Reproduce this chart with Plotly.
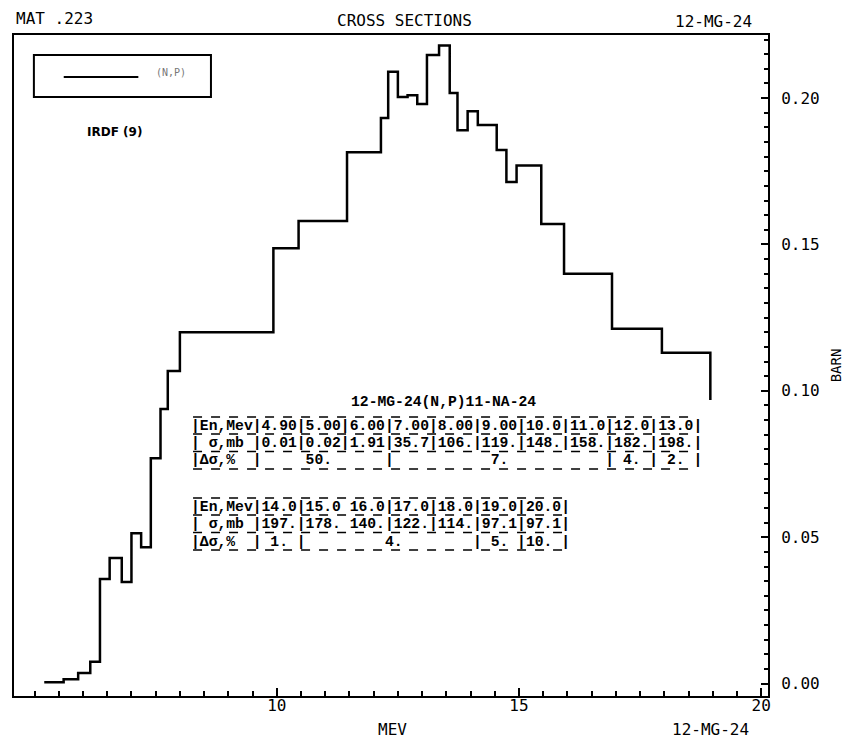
import plotly.graph_objects as go

# ---------------- data ----------------
# IRDF group-wise cross section (barn): step start energies (MeV) and levels
group_edges = [5.2, 5.6, 5.9, 6.15, 6.35, 6.55, 6.8, 7.0, 7.2, 7.4,
               7.6, 7.75, 8.0, 9.93, 10.45, 11.45, 12.15, 12.3, 12.5, 12.7,
               12.9, 13.1, 13.35, 13.57, 13.73, 13.94, 14.15, 14.54, 14.74, 14.95,
               15.46, 15.93, 16.92, 17.95, 18.95]
group_xs = [0.0005, 0.0015, 0.0036, 0.0075, 0.0357, 0.0429, 0.0347, 0.0514, 0.0466, 0.0770,
            0.0938, 0.1068, 0.1200, 0.1487, 0.1580, 0.1815, 0.1932, 0.2090, 0.2004, 0.2010,
            0.1980, 0.2147, 0.2180, 0.2017, 0.1890, 0.1955, 0.1908, 0.1823, 0.1713, 0.1770,
            0.1570, 0.1400, 0.1212, 0.1130, 0.0969]

# table of point data
t1_energy = ["4.90", "5.00", "6.00", "7.00", "8.00", "9.00", "10.0", "11.0", "12.0", "13.0"]
t1_sigma = ["0.01", "0.02", "1.91", "35.7", "106.", "119.", "148.", "158.", "182.", "198."]
t1_unc = [("50.", 3), ("7.", 5), ("4.", 1), ("2.", 1)]
t1_seps = ["|"] * 10

t2_energy = ["14.0", "15.0", "16.0", "17.0", "18.0", "19.0", "20.0"]
t2_sigma = ["197.", "178.", "140.", "122.", "114.", "97.1", "97.1"]
t2_unc = [("1.", 1), ("4.", 4), ("5.", 1), ("10.", 1)]
t2_seps = ["|", " ", "|", "|", "|", "|", "|"]

x_tickvals = [10, 15, 20]
y_tickvals = [0.00, 0.05, 0.10, 0.15, 0.20]

# ---------------- layout helpers ----------------
W, H = 854, 738
L, R, T, B = 12, 770, 35, 696  # plot frame in pixels


def px(x):
    return (x - L) / (R - L)


def py(y):
    return (B - y) / (B - T)


def e_of_px(p):
    return 15 + (p - 519.67) / 48.7


def v_of_py(p):
    return (683.6 - p) / 2927.5


def nb(s):
    return s.replace(" ", "\u00a0")


def row(head, cells, seps):
    return "|" + head + "|" + "".join(c + s for c, s in zip(cells, seps))


def unc_row(head, groups):
    s = "|" + head + "|"
    for lab, n in groups:
        s += lab.center(n * 5 - 1) + "|"
    return s


fig = go.Figure()
fig.add_trace(go.Scatter(
    x=group_edges, y=group_xs, mode="lines",
    line=dict(shape="hv", color="black", width=2.5),
    name="(N,P)", showlegend=False, hoverinfo="x+y"))

mono = "DejaVu Sans Mono"
tmono = "Liberation Mono"
ann = []


def text(x, y, s, size=16, family=mono, xanchor="center", color="black"):
    ann.append(dict(x=px(x), y=py(y), xref="paper", yref="paper", text=s,
                    showarrow=False, xanchor=xanchor, yanchor="middle",
                    font=dict(family=family, size=size, color=color)))


text(53, 19, "MAT .223")
text(405, 20, "CROSS SECTIONS")
text(715, 21, "12-MG-24")
text(393, 729, "MEV")
text(712, 729, "12-MG-24")
text(113, 132, "<b>IRDF (9)</b>", size=12, family="DejaVu Sans")
text(170, 72, "(N,P)", size=10, color="#777")

# table of point data
text(444, 402, "<b>12-MG-24(N,P)11-NA-24</b>", size=14.7, family=tmono)
cw = 8.8
x0 = 189
t1_rows = [row("En,Mev", t1_energy, t1_seps),
           row(" σ,mb ", t1_sigma, t1_seps),
           unc_row("Δσ,%  ", t1_unc)]
t2_rows = [row("En,Mev", t2_energy, t2_seps),
           row(" σ,mb ", t2_sigma, t2_seps),
           unc_row("Δσ,%  ", t2_unc)]
for rows, ys in ((t1_rows, [426, 443, 460]), (t2_rows, [506.5, 524, 541.5])):
    for r, yy in zip(rows, ys):
        ann.append(dict(x=px(x0), y=py(yy), xref="paper", yref="paper",
                        text="<b>" + nb(r) + "</b>", showarrow=False,
                        xanchor="left", yanchor="middle", borderpad=0,
                        font=dict(family=tmono, size=14.7, color="black")))

shapes = []
for rows, ys in ((t1_rows, [417, 434, 451.5, 469]), (t2_rows, [498, 515, 532.5, 550])):
    w = len(rows[0]) * cw
    for yy in ys:
        shapes.append(dict(type="line", xref="paper", yref="paper",
                           x0=px(x0 + 3), x1=px(x0 + w - 3), y0=py(yy), y1=py(yy),
                           line=dict(color="black", width=1.5, dash="dash")))

# legend box
shapes.append(dict(type="rect", xref="paper", yref="paper",
                   x0=px(32), x1=px(210), y0=py(55), y1=py(97),
                   line=dict(color="black", width=2)))
shapes.append(dict(type="line", xref="paper", yref="paper",
                   x0=px(62), x1=px(137), y0=py(77), y1=py(77),
                   line=dict(color="black", width=2)))

fig.update_layout(
    width=W, height=H,
    margin=dict(l=L, r=W - R, t=T, b=H - B, pad=0),
    paper_bgcolor="white", plot_bgcolor="white",
    showlegend=False,
    annotations=ann, shapes=shapes,
    xaxis=dict(range=[e_of_px(L), e_of_px(R)], showline=True, linecolor="black",
               linewidth=2, mirror=True, showgrid=False, zeroline=False,
               tickmode="array", tickvals=x_tickvals,
               ticktext=[str(v) for v in x_tickvals],
               ticks="inside", ticklen=8, tickwidth=2, tickcolor="black",
               ticklabelstandoff=-6,
               tickfont=dict(family=mono, size=16, color="black"),
               minor=dict(dtick=0.5, tick0=0, ticks="inside", ticklen=5,
                          tickwidth=1.5, tickcolor="black", showgrid=False)),
    yaxis=dict(range=[v_of_py(B), v_of_py(T)], side="right", showline=True,
               linecolor="black", linewidth=2, mirror=True, showgrid=False,
               zeroline=False, tickmode="array", tickvals=y_tickvals,
               ticktext=["%.2f" % v for v in y_tickvals],
               ticks="inside", ticklen=7, tickwidth=2, tickcolor="black",
               ticklabelstandoff=8,
               tickfont=dict(family=mono, size=16, color="black"),
               minor=dict(dtick=0.005, tick0=0, ticks="inside", ticklen=4,
                          tickwidth=1.5, tickcolor="black", showgrid=False),
               title=dict(text="BARN", standoff=12,
                          font=dict(family=mono, size=14, color="black"))),
)

fig.write_html("out.html")
